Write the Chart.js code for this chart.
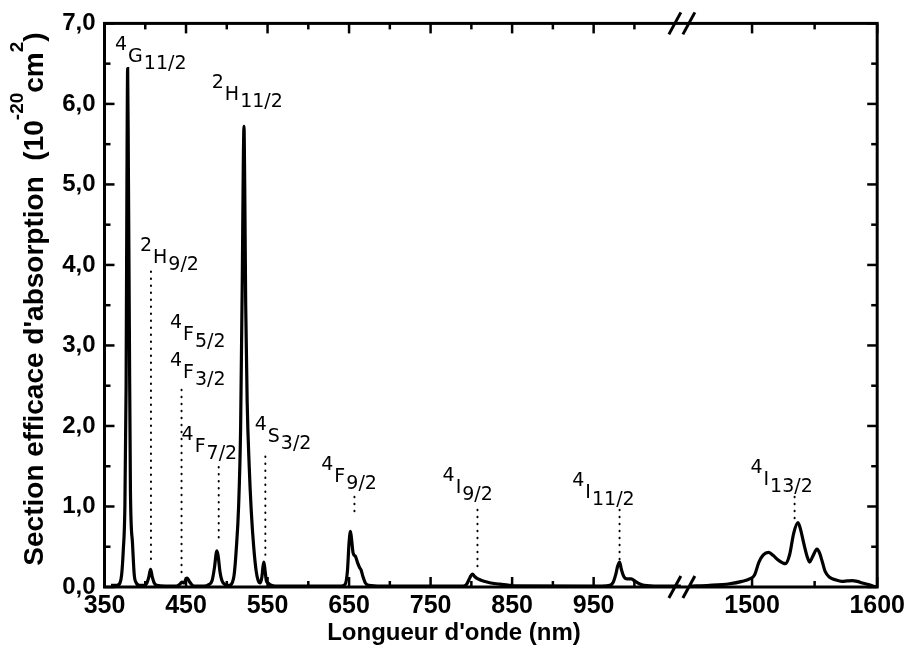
<!DOCTYPE html>
<html>
<head>
<meta charset="utf-8">
<script src="https://cdn.jsdelivr.net/npm/chart.js@4.4.1/dist/chart.umd.min.js"></script>
<style>
  body { margin: 0; background: #fff; }
  #wrap { width: 909px; height: 651px; }
</style>
</head>
<body>
<div id="wrap"><canvas id="spectrum" width="909" height="651"></canvas></div>
<script>
// absorption cross-section (10^-20 cm2) vs wavelength (nm), part before the axis break
const leftNm = [358, 365, 369, 371, 373, 375, 376.5, 377.5, 378.4, 379.3, 380.5, 381.8, 384.3, 386.5, 389, 393,
    399, 402, 404.5, 406.5, 408.5, 411, 414, 425,
    438, 442, 445, 447.5, 450, 451.5, 454, 457, 461,
    472, 478, 482, 485, 487, 488, 489.5, 491.5, 494, 498,
    503, 507, 509, 511.5, 514.5, 517, 519, 520.2, 521.1, 522, 523.2, 525, 527.5, 530, 533, 536, 538.5,
    541, 543, 544.5, 545.6, 547, 548.5, 550.5, 553, 560,
    640, 645, 648, 650, 651.7, 653, 655, 657.8, 660.5, 663, 664.8, 667, 670, 674, 690,
    790, 794, 797, 799.5, 801.4, 804, 808, 812, 818, 824, 835, 845, 852,
    960, 970, 974, 977, 979.5, 981.8, 984, 987, 991, 996, 1001, 1006, 1012, 1030, 1057];
const leftAbs = [0.02, 0.02, 0.05, 0.15, 0.45, 1.0, 2.5, 5.0, 6.44, 5.2, 3.2, 1.2, 0.55, 0.15, 0.05, 0.02,
    0.02, 0.05, 0.13, 0.22, 0.13, 0.05, 0.02, 0.01,
    0.01, 0.03, 0.06, 0.05, 0.10, 0.11, 0.07, 0.03, 0.01,
    0.01, 0.03, 0.08, 0.25, 0.42, 0.45, 0.38, 0.20, 0.08, 0.03,
    0.02, 0.06, 0.15, 0.45, 1.0, 2.0, 3.8, 5.2, 5.72, 5.0, 3.5, 2.3, 1.5, 0.95, 0.5, 0.2, 0.08,
    0.05, 0.12, 0.26, 0.31, 0.20, 0.08, 0.05, 0.03, 0.01,
    0.01, 0.03, 0.20, 0.55, 0.69, 0.60, 0.42, 0.38, 0.30, 0.24, 0.21, 0.13, 0.05, 0.02, 0.01,
    0.01, 0.03, 0.09, 0.14, 0.16, 0.13, 0.10, 0.085, 0.065, 0.05, 0.035, 0.025, 0.015,
    0.01, 0.02, 0.06, 0.15, 0.26, 0.31, 0.22, 0.13, 0.10, 0.10, 0.07, 0.04, 0.02, 0.01, 0.01];

// 4I13/2 band, after the break
const rightNm = [1450, 1466, 1482, 1492, 1498, 1502, 1505.5, 1509, 1513.3, 1517, 1521.3, 1526.6, 1530, 1533.3,
    1536.7, 1539, 1541.2, 1544, 1546, 1548.5, 1551.9, 1554, 1556, 1558.5, 1562, 1566.5, 1571.8, 1576,
    1580, 1584, 1588, 1593, 1597, 1600];
const rightAbs = [0.01, 0.02, 0.04, 0.07, 0.10, 0.15, 0.31, 0.40, 0.43, 0.39, 0.33, 0.29, 0.40, 0.67,
    0.80, 0.70, 0.55, 0.38, 0.31, 0.38, 0.47, 0.42, 0.32, 0.19, 0.12, 0.09, 0.07, 0.075,
    0.08, 0.07, 0.05, 0.03, 0.01, 0.0];

const tickNm = [350, 400, 450, 500, 550, 600, 650, 700, 750, 800, 850, 900, 950, 1000, 1500, 1550, 1600];
const tickLabelNm = [350, 450, 550, 650, 750, 850, 950, 1500, 1600];

// level labels: 2S+1 (sup), L, J (sub), anchored at (nm, abs)
const levelSup = ['4', '2', '2', '4', '4', '4', '4', '4', '4', '4', '4'];
const levelTerm = ['G', 'H', 'H', 'F', 'F', 'F', 'S', 'F', 'I', 'I', 'I'];
const levelJ = ['11/2', '11/2', '9/2', '5/2', '3/2', '7/2', '3/2', '9/2', '9/2', '11/2', '13/2'];
const labelNm = [362.9, 481.6, 393.5, 430.2, 430.2, 444.5, 534.2, 615.9, 764.7, 923.8, 1498.7];
const labelAbs = [6.525, 6.05, 4.02, 3.07, 2.59, 1.68, 1.805, 1.31, 1.164, 1.10, 1.267];

// dotted guides from a label down to its band
const dropNm = [407, 444.5, 490.1, 547.3, 656.6, 807.5, 981.8, 1534];
const dropTop = [3.92, 2.45, 1.49, 1.62, 1.12, 0.96, 0.96, 1.12];
const dropBottom = [0.28, 0.14, 0.56, 0.40, 0.88, 0.22, 0.34, 0.83];

// broken x axis: 350-1057 nm, then 1449.5-1600 nm drawn wider
const LEFT_END = 1057, RIGHT_START = 1449.5, GAP = 9.8, K = 1.535;
function toU(nm) {
    return nm <= LEFT_END ? nm : LEFT_END + GAP + (nm - RIGHT_START) * K;
}
function fromU(u) {
    return u <= LEFT_END + GAP / 2 ? u : RIGHT_START + (u - LEFT_END - GAP) / K;
}

const sans = '"Liberation Sans", Arial, sans-serif';

const decorations = {
    id: 'decorations',
    afterDatasetsDraw(chart) {
        const { ctx, chartArea: a, scales: { x, y } } = chart;
        ctx.save();
        ctx.strokeStyle = '#000';
        ctx.fillStyle = '#000';

        // dotted guides
        ctx.lineWidth = 2;
        ctx.lineCap = 'round';
        ctx.setLineDash([0.5, 6.5]);
        dropNm.forEach((nm, i) => {
            const px = x.getPixelForValue(toU(nm));
            ctx.beginPath();
            ctx.moveTo(px, y.getPixelForValue(dropTop[i]));
            ctx.lineTo(px, y.getPixelForValue(dropBottom[i]));
            ctx.stroke();
        });
        ctx.setLineDash([]);
        ctx.lineCap = 'butt';

        // level labels
        ctx.font = '19px "DejaVu Sans", sans-serif';
        ctx.textAlign = 'left';
        ctx.textBaseline = 'alphabetic';
        levelTerm.forEach((t, i) => {
            let px = x.getPixelForValue(toU(labelNm[i]));
            const py = y.getPixelForValue(labelAbs[i]);
            ctx.fillText(levelSup[i], px, py - 12);
            px += ctx.measureText(levelSup[i]).width + 1;
            ctx.fillText(t, px, py);
            px += ctx.measureText(t).width + 1;
            ctx.fillText(levelJ[i], px, py + 7);
        });

        // frame
        ctx.lineWidth = 3;
        ctx.strokeRect(a.left, a.top, a.right - a.left, a.bottom - a.top);

        // inward ticks
        ctx.lineWidth = 2.5;
        const seg = (x1, y1, x2, y2) => {
            ctx.beginPath(); ctx.moveTo(x1, y1); ctx.lineTo(x2, y2); ctx.stroke();
        };
        x.ticks.forEach(t => {
            const px = x.getPixelForValue(t.value);
            const len = t.label ? 10 : 6;
            seg(px, a.bottom, px, a.bottom - len);
            seg(px, a.top, px, a.top + len);
        });
        y.ticks.forEach(t => {
            const py = y.getPixelForValue(t.value);
            const len = t.label ? 10 : 6;
            seg(a.left, py, a.left + len, py);
            seg(a.right, py, a.right - len, py);
        });

        // break marks
        ctx.lineWidth = 3;
        const bx = x.getPixelForValue(LEFT_END + GAP / 2);
        [a.top, a.bottom].forEach(yy => {
            [-10, 4].forEach(off => seg(bx + off - 6, yy + 11, bx + off + 6, yy - 11));
        });

        // axis titles
        ctx.font = 'bold 24px ' + sans;
        ctx.textAlign = 'center';
        ctx.fillText("Longueur d'onde (nm)", 454, 640);

        ctx.save();
        ctx.translate(43, 299);
        ctx.rotate(-Math.PI / 2);
        ctx.textAlign = 'left';
        const parts = [["Section efficace d'absorption  (10", false], ['-20', true], ['cm', false], ['2', true], [')', false]];
        const big = 'bold 28px ' + sans, small = 'bold 19px ' + sans;
        let total = 0;
        parts.forEach(([s, sup]) => { ctx.font = sup ? small : big; total += ctx.measureText(s).width; });
        let tx = -total / 2;
        parts.forEach(([s, sup]) => {
            ctx.font = sup ? small : big;
            ctx.fillText(s, tx, sup ? -20 : 0);
            tx += ctx.measureText(s).width;
        });
        ctx.restore();

        ctx.restore();
    }
};

new Chart(document.getElementById('spectrum'), {
    type: 'line',
    data: {
        datasets: [{
            data: leftNm.map((nm, i) => ({ x: toU(nm), y: leftAbs[i] })),
            borderColor: '#000',
            borderWidth: 3.2,
            pointRadius: 0,
            cubicInterpolationMode: 'monotone'
        }, {
            data: rightNm.map((nm, i) => ({ x: toU(nm), y: rightAbs[i] })),
            borderColor: '#000',
            borderWidth: 3.2,
            pointRadius: 0,
            cubicInterpolationMode: 'monotone'
        }]
    },
    options: {
        responsive: false,
        animation: false,
        layout: { padding: { left: 0, right: 30, top: 23, bottom: 0 } },
        plugins: { legend: { display: false }, tooltip: { enabled: false } },
        scales: {
            x: {
                type: 'linear',
                min: 350,
                max: toU(1600),
                grid: { display: false, drawTicks: false },
                border: { display: false },
                afterBuildTicks: scale => { scale.ticks = tickNm.map(v => ({ value: toU(v) })); },
                afterFit: scale => { scale.height = 64; },
                ticks: {
                    autoSkip: false,
                    maxRotation: 0,
                    padding: 4,
                    color: '#000',
                    font: { family: sans, weight: 'bold', size: 25 },
                    callback: v => {
                        const nm = Math.round(fromU(v));
                        return tickLabelNm.includes(nm) ? String(nm) : '';
                    }
                }
            },
            y: {
                min: 0,
                max: 7,
                grid: { display: false, drawTicks: false },
                border: { display: false },
                afterFit: scale => { scale.width = 104.5; },
                ticks: {
                    stepSize: 0.5,
                    padding: 9,
                    color: '#000',
                    font: { family: sans, weight: 'bold', size: 24 },
                    callback: v => Number.isInteger(v) ? v.toFixed(1).replace('.', ',') : ''
                }
            }
        }
    },
    plugins: [decorations]
});
</script>
</body>
</html>
